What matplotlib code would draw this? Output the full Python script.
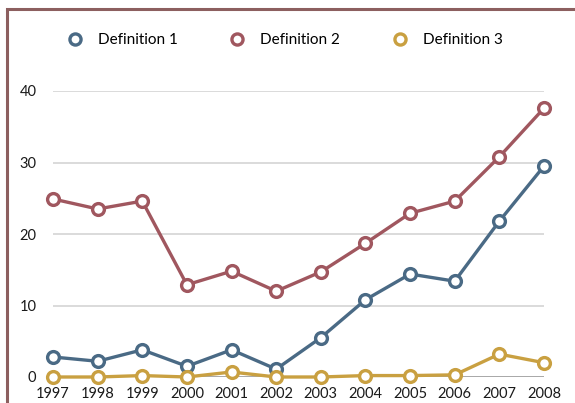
import matplotlib.pyplot as plt
from matplotlib.lines import Line2D
from matplotlib.patches import Rectangle

years = [1997, 1998, 1999, 2000, 2001, 2002, 2003, 2004, 2005, 2006, 2007, 2008]
def1 = [2.8, 2.2, 3.8, 1.5, 3.8, 1.1, 5.5, 10.8, 14.4, 13.4, 21.8, 29.5]
def2 = [24.9, 23.5, 24.6, 12.9, 14.8, 12.0, 14.7, 18.7, 22.9, 24.6, 30.8, 37.6]
def3 = [0.0, 0.0, 0.2, 0.0, 0.7, 0.0, 0.0, 0.2, 0.2, 0.3, 3.2, 2.0]
labels = ["Definition 1", "Definition 2", "Definition 3"]
colors = ["#4a6a85", "#a0575f", "#c9a041"]
yticks = [0, 10, 20, 30, 40]

plt.rcParams["font.family"] = ["Lato", "DejaVu Sans"]

fig = plt.figure(figsize=(5.75, 4.03), dpi=100)
ax = fig.add_axes([53 / 575, 26 / 403, 491 / 575, 286 / 403])

for vals, col, lab in zip([def1, def2, def3], colors, labels):
    ax.plot(years, vals, color=col, lw=2.4, marker="o", ms=8.5,
            mfc="white", mec=col, mew=2.4, clip_on=False, zorder=3, label=lab)

ax.set_xlim(1997, 2008)
ax.set_ylim(0, 40)
ax.set_yticks(yticks)
ax.set_xticks(years)
ax.set_xticklabels([str(y) for y in years])
for y in yticks[1:]:
    ax.axhline(y, color="#d4d4d4", lw=1.2, zorder=1)
ax.axhline(0, color="#9a9a9a", lw=1.2, zorder=1)

for s in ax.spines.values():
    s.set_visible(False)
ax.tick_params(length=0, labelsize=10.5, colors="#1a1a1a")
ax.tick_params(axis="y", pad=12)
ax.tick_params(axis="x", pad=7)

handles = [Line2D([], [], color=c, marker="o", ms=8, mfc="white", mec=c,
                  mew=2.4, lw=0) for c in colors]
fig.legend(handles, labels, loc="center left", bbox_to_anchor=(52 / 575, 1 - 40 / 403),
           ncol=3, frameon=False, fontsize=11, columnspacing=3.3,
           handletextpad=0.9, handlelength=1.2)

fig.patches.append(Rectangle((7 / 575, -0.1), 1.2, 1.1 - 9 / 403,
                             transform=fig.transFigure, fill=False,
                             edgecolor="#8c5f5f", lw=2.2))

fig.savefig("out.png", dpi=100)
